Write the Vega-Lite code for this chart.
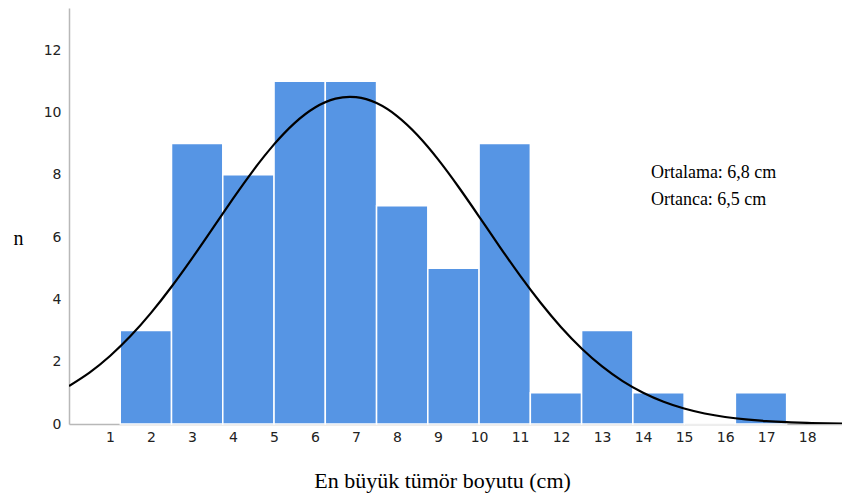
{
  "$schema": "https://vega.github.io/schema/vega-lite/v6.json",
  "width": 773,
  "height": 416,
  "autosize": "none",
  "padding": {"left": 69, "top": 8, "right": 0, "bottom": 76},
  "background": "white",
  "config": {"view": {"stroke": null}},
  "datasets": {
    "bins": [
      {"start": 1.25, "end": 2.5, "n": 3},
      {"start": 2.5, "end": 3.75, "n": 9},
      {"start": 3.75, "end": 5.0, "n": 8},
      {"start": 5.0, "end": 6.25, "n": 11},
      {"start": 6.25, "end": 7.5, "n": 11},
      {"start": 7.5, "end": 8.75, "n": 7},
      {"start": 8.75, "end": 10.0, "n": 5},
      {"start": 10.0, "end": 11.25, "n": 9},
      {"start": 11.25, "end": 12.5, "n": 1},
      {"start": 12.5, "end": 13.75, "n": 3},
      {"start": 13.75, "end": 15.0, "n": 1},
      {"start": 15.0, "end": 16.25, "n": 0},
      {"start": 16.25, "end": 17.5, "n": 1}
    ],
    "curve": [
      {"size": 0, "n": 1.218}, {"size": 0.5, "n": 1.649}, {"size": 1, "n": 2.182},
      {"size": 1.5, "n": 2.821}, {"size": 2, "n": 3.566}, {"size": 2.5, "n": 4.404},
      {"size": 3, "n": 5.316}, {"size": 3.5, "n": 6.272}, {"size": 4, "n": 7.232},
      {"size": 4.5, "n": 8.149}, {"size": 5, "n": 8.973}, {"size": 5.5, "n": 9.657},
      {"size": 6, "n": 10.157}, {"size": 6.5, "n": 10.441}, {"size": 7, "n": 10.489},
      {"size": 7.5, "n": 10.298}, {"size": 8, "n": 9.881}, {"size": 8.5, "n": 9.266},
      {"size": 9, "n": 8.492}, {"size": 9.5, "n": 7.606}, {"size": 10, "n": 6.658},
      {"size": 10.5, "n": 5.695}, {"size": 11, "n": 4.762}, {"size": 11.5, "n": 3.891},
      {"size": 12, "n": 3.107}, {"size": 12.5, "n": 2.425}, {"size": 13, "n": 1.849},
      {"size": 13.5, "n": 1.378}, {"size": 14, "n": 1.004}, {"size": 14.5, "n": 0.715},
      {"size": 15, "n": 0.497}, {"size": 15.5, "n": 0.338}, {"size": 16, "n": 0.225},
      {"size": 16.5, "n": 0.146}, {"size": 17, "n": 0.093}, {"size": 17.5, "n": 0.058},
      {"size": 18, "n": 0.035}, {"size": 18.5, "n": 0.021}, {"size": 18.85, "n": 0.014}
    ]
  },
  "layer": [
    {
      "data": {"name": "bins"},
      "mark": {"type": "rect", "color": "#5695e4", "stroke": "white", "strokeWidth": 1.5},
      "encoding": {
        "x": {
          "field": "start", "type": "quantitative",
          "scale": {"domain": [0, 18.85], "nice": false, "zero": false},
          "axis": {
            "values": [1,2,3,4,5,6,7,8,9,10,11,12,13,14,15,16,17,18],
            "title": "En büyük tümör boyutu (cm)",
            "titleFont": "Liberation Serif", "titleFontSize": 22, "titleFontWeight": "normal",
            "titleColor": "#000", "titleX": 373, "titleY": 56, "titleAnchor": "middle",
            "titleAlign": "center", "titleBaseline": "middle",
            "ticks": false, "grid": false, "domainColor": "#b8b8b8", "domainWidth": 1.5,
            "labelFont": "DejaVu Sans", "labelFontSize": 14, "labelColor": "#222",
            "labelPadding": 6, "labelBaseline": "top"
          }
        },
        "x2": {"field": "end"},
        "y": {
          "field": "n", "type": "quantitative",
          "scale": {"domain": [0, 13.35], "nice": false},
          "axis": {
            "values": [0, 2, 4, 6, 8, 10, 12],
            "title": "n", "titleAngle": 0, "titleX": -51, "titleY": 230,
            "titleAlign": "center", "titleBaseline": "middle",
            "titleFont": "Liberation Serif", "titleFontSize": 20, "titleFontWeight": "normal",
            "titleColor": "#000",
            "ticks": false, "grid": false, "domainColor": "#b8b8b8", "domainWidth": 1.5,
            "labelFont": "DejaVu Sans", "labelFontSize": 14, "labelColor": "#222",
            "labelPadding": 8
          }
        },
        "y2": {"datum": 0}
      }
    },
    {
      "data": {"name": "curve"},
      "mark": {"type": "line", "color": "#000", "strokeWidth": 2.2, "interpolate": "natural", "clip": true},
      "encoding": {
        "x": {"field": "size", "type": "quantitative"},
        "y": {"field": "n", "type": "quantitative"}
      }
    },
    {
      "data": {"values": [{}]},
      "mark": {"type": "text", "align": "left", "baseline": "middle", "font": "Liberation Serif", "fontSize": 18, "color": "#000"},
      "encoding": {
        "x": {"datum": 14.19, "type": "quantitative"},
        "y": {"datum": 8.06, "type": "quantitative"},
        "text": {"value": "Ortalama: 6,8 cm"}
      }
    },
    {
      "data": {"values": [{}]},
      "mark": {"type": "text", "align": "left", "baseline": "middle", "font": "Liberation Serif", "fontSize": 18, "color": "#000"},
      "encoding": {
        "x": {"datum": 14.19, "type": "quantitative"},
        "y": {"datum": 7.19, "type": "quantitative"},
        "text": {"value": "Ortanca: 6,5 cm"}
      }
    }
  ]
}
